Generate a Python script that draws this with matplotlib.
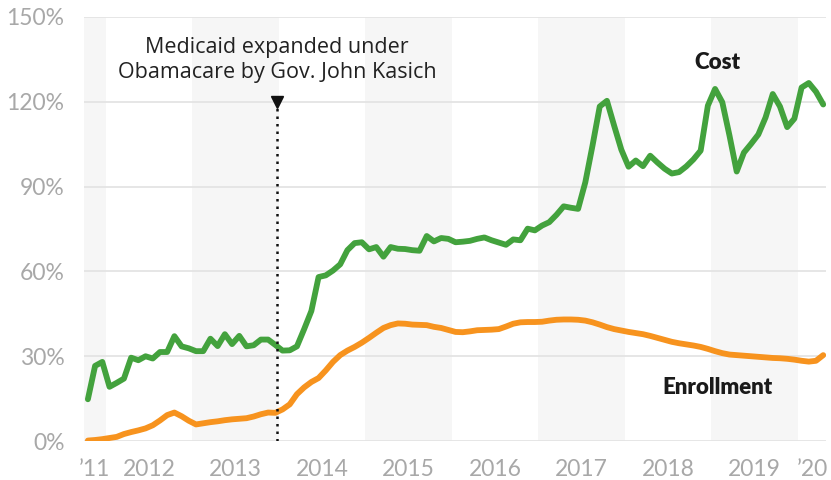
import numpy as np
import matplotlib
matplotlib.use("Agg")
import matplotlib.pyplot as plt

# monthly values, Oct 2011 - Apr 2020 (% change)
start_year, start_month = 2011, 10

cost = [
    14.8, 26.6, 28.0,
    19.2, 20.6, 22.1, 29.5, 28.6, 30.0, 29.2, 31.5, 31.5, 37.1, 33.5, 32.8,
    31.8, 31.8, 36.2, 33.6, 37.8, 34.3, 37.2, 33.5, 33.9, 35.9, 35.9, 34.0,
    32.0, 32.1, 33.5, 39.6, 46.0, 58.0, 58.6, 60.3, 62.5, 67.5, 70.0, 70.3,
    67.8, 68.6, 65.2, 68.6, 68.0, 67.9, 67.5, 67.3, 72.5, 70.6, 71.8, 71.5,
    70.3, 70.5, 70.8, 71.5, 72.0, 71.0, 70.2, 69.4, 71.3, 71.0, 75.1, 74.5,
    76.2, 77.4, 80.0, 83.0, 82.5, 82.1, 91.5, 104.5, 118.3, 120.3, 111.5, 103.0,
    97.0, 99.2, 97.2, 100.9, 98.5, 96.3, 94.6, 95.1, 97.1, 99.6, 102.7, 118.6,
    124.5, 119.8, 108.0, 95.3, 102.0, 105.1, 108.4, 114.4, 122.7, 118.3, 111.0, 114.0,
    125.0, 126.6, 123.5, 119.0,
]

enrollment = [
    0.2, 0.4, 0.7,
    1.1, 1.5, 2.5, 3.2, 3.8, 4.5, 5.6, 7.3, 9.2, 10.1, 8.8, 7.2,
    5.9, 6.3, 6.7, 7.0, 7.4, 7.7, 7.9, 8.1, 8.7, 9.5, 10.1, 10.0,
    11.2, 13.0, 16.6, 19.0, 20.9, 22.3, 25.0, 28.0, 30.4, 32.0, 33.3, 34.8,
    36.5, 38.3, 40.0, 41.0, 41.6, 41.5, 41.2, 41.1, 41.0, 40.4, 40.0, 39.3,
    38.6, 38.5, 38.8, 39.2, 39.3, 39.4, 39.6, 40.5, 41.5, 42.0, 42.1, 42.1,
    42.2, 42.6, 42.9, 43.0, 43.0, 42.9, 42.6, 42.0, 41.2, 40.3, 39.6, 39.1,
    38.6, 38.2, 37.8, 37.2, 36.5, 35.8, 35.1, 34.6, 34.2, 33.8, 33.3, 32.6,
    31.8, 31.1, 30.6, 30.4, 30.2, 30.0, 29.8, 29.6, 29.4, 29.3, 29.1, 28.8,
    28.4, 28.1, 28.4, 30.4,
]

year_ticks = [2011.873, 2012.5, 2013.5, 2014.5, 2015.5, 2016.5, 2017.5, 2018.5, 2019.5, 2020.162]
year_labels = ["\u201911", "2012", "2013", "2014", "2015", "2016", "2017", "2018", "2019", "\u201920"]
shaded_years = [2011, 2013, 2015, 2017, 2019]
expansion = 2013.98

x = start_year + (start_month - 1 + np.arange(len(cost)) + 0.5) / 12
x_min, x_max = 2011.746, 2020.324

fig = plt.figure(figsize=(8.31, 4.8), dpi=100)
ax = fig.add_axes([0.101, 0.081, 0.893, 0.884])

for yr in shaded_years:
    ax.axvspan(max(yr, x_min), min(yr + 1, x_max), color="#f6f6f6", lw=0, zorder=0)

for v in [0, 30, 60, 90, 120, 150]:
    ax.axhline(v, color="#e4e4e4", lw=1.3, zorder=1)

ax.plot(x, enrollment, color="#f7931e", lw=4.2, solid_capstyle="round", zorder=3)
ax.plot(x, cost, color="#43a23d", lw=4.2, solid_capstyle="round", zorder=3)

ax.plot([expansion, expansion], [0, 118], color="#111111", lw=1.8, ls=(0, (1, 2)), zorder=4)
ax.plot([expansion], [120], marker="v", color="#111111", ms=9, zorder=5, clip_on=False)
ax.text(expansion, 126.5, "Medicaid expanded under\nObamacare by Gov. John Kasich", ha="center", va="bottom",
        fontsize=15.5, family="Open Sans", color="#222222", linespacing=1.25)

ax.text(2019.07, 134, "Cost", ha="center", va="center", fontsize=16, family="Lato",
        weight="heavy", color="#1a1a1a")
ax.text(2019.07, 19, "Enrollment", ha="center", va="center", fontsize=16, family="Lato",
        weight="heavy", color="#1a1a1a")

ax.set_xlim(x_min, x_max)
ax.set_ylim(0, 150)
ax.set_yticks([0, 30, 60, 90, 120, 150])
ax.set_yticklabels([f"{v}%" for v in [0, 30, 60, 90, 120, 150]])
ax.set_xticks(year_ticks)
ax.set_xticklabels(year_labels)
for lab in ax.get_xticklabels() + ax.get_yticklabels():
    lab.set_family("Lato")
    lab.set_weight("normal")
    lab.set_fontsize(16.5)
    lab.set_color("#a8a8a8")
ax.tick_params(axis="y", length=0, pad=14)
ax.tick_params(axis="x", length=0, pad=13)
for s in ax.spines.values():
    s.set_visible(False)

fig.savefig("out.png", dpi=100)
